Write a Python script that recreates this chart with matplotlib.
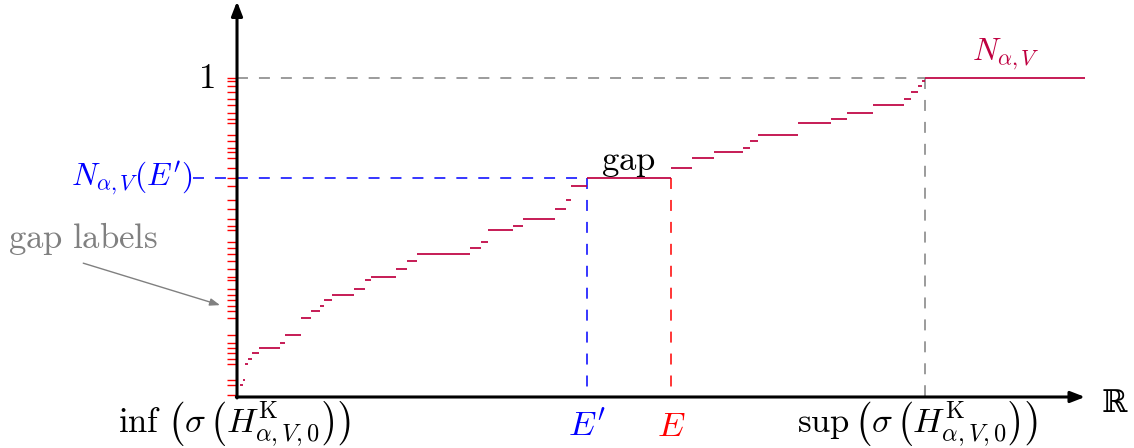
import matplotlib
matplotlib.use("Agg")
import matplotlib.pyplot as plt
import numpy as np

plt.rcParams['mathtext.fontset'] = 'cm'
plt.rcParams['lines.scale_dashes'] = False

# ---- data: integrated density of states staircase ----
# energy break points (E, normalised so inf(spectrum)=0, sup(spectrum)=1)
E_breaks = [0.005, 0.008, 0.011, 0.016, 0.022, 0.032, 0.0625, 0.070, 0.093, 0.108,
            0.121, 0.127, 0.138, 0.170, 0.186, 0.195, 0.231, 0.247, 0.262, 0.339,
            0.354, 0.365, 0.401, 0.416, 0.462, 0.478, 0.485, 0.508, 0.631, 0.662,
            0.693, 0.736, 0.746, 0.758, 0.816, 0.863, 0.887, 0.924, 0.969, 0.979,
            0.990, 0.995, 1.000, 1.233]
# N value on each plateau between consecutive break points
N_levels = [0.038, 0.053, 0.103, 0.120, 0.137, 0.155, 0.170, 0.193, 0.247, 0.271,
            0.286, 0.303, 0.320, 0.339, 0.366, 0.376, 0.402, 0.426, 0.449, 0.468,
            0.486, 0.523, 0.535, 0.558, 0.588, 0.618, 0.662, 0.686, 0.718, 0.750,
            0.768, 0.781, 0.802, 0.820, 0.858, 0.871, 0.891, 0.914, 0.934, 0.956,
            0.975, 0.990, 1.000]
gap_labels = [0.006] + N_levels          # red ticks on the vertical axis
E_prime = 0.508
E_gap = 0.631
N_E_prime = 0.686
E_inf, E_sup = 0.0, 1.0

stair_col = '#BF0040'
fs = 25
fs_n = 22.5

fig = plt.figure(figsize=(11.34, 4.48), dpi=100)
ax = fig.add_axes([0, 0, 1, 1])
ax.set_xlim(-0.3445, 1.3038)
ax.set_ylim(-0.1599, 1.2445)
ax.axis('off')

dash = (0, (7.9, 7.9))
dlw = 1.1

# guide lines
ax.plot([E_inf, E_sup], [1, 1], color='#808080', lw=dlw, ls=dash)
ax.plot([E_sup, E_sup], [1, 0], color='#808080', lw=dlw, ls=dash)
ax.plot([-0.064, E_prime], [N_E_prime, N_E_prime], color='#0000FF', lw=dlw, ls=dash)
ax.plot([E_prime, E_prime], [N_E_prime, 0], color='#0000FF', lw=dlw, ls=dash)
ax.plot([E_gap, E_gap], [N_E_prime, 0], color='#FF0000', lw=dlw, ls=dash)

# staircase
ax.hlines(N_levels, E_breaks[:-1], E_breaks[1:], colors=stair_col, lw=1.25)

# gap label ticks
ax.hlines(gap_labels, -0.0145, 0.0, colors='#FF0000', lw=1.0)

# axes arrows
arr = dict(arrowstyle='-|>,head_length=0.85,head_width=0.33', lw=2.2, color='black',
           shrinkA=0, shrinkB=0)
ax.annotate('', xy=(1.2326, 0), xytext=(-0.001, 0), arrowprops=arr)
ax.annotate('', xy=(0, 1.240), xytext=(0, -0.003), arrowprops=arr)

# texts
ax.text(-0.033, 1.0, r'$1$', fontsize=fs, ha='right', va='center')
ax.text(-0.065, N_E_prime, r"$N_{\alpha,V}(E')$", fontsize=fs_n, color='#0000FF',
        ha='right', va='center')
ax.text((E_prime + E_gap) / 2, 0.712, r'$\mathrm{gap}$', fontsize=fs,
        ha='center', va='baseline')
ax.text(1.1177, 1.075, r'$N_{\alpha,V}$', fontsize=fs_n, color=stair_col,
        ha='center', va='center')
ax.text(-0.2235, 0.498, r'$\mathrm{gap\ labels}$', fontsize=fs, color='#808080',
        ha='center', va='center')
ax.annotate('', xy=(-0.0247, 0.288), xytext=(-0.2235, 0.4195),
            arrowprops=dict(arrowstyle='-|>,head_length=0.6,head_width=0.22',
                            lw=1.0, color='#808080', shrinkA=0, shrinkB=0))

ax.text(E_inf - 0.003, -0.082,
        r'$\inf\,\left(\sigma\,\left(H^{\mathrm{K}}_{\alpha,V,0}\right)\right)$',
        fontsize=fs, ha='center', va='center')
ax.text(E_prime, -0.09, r"$E'$", fontsize=fs, color='#0000FF', ha='center', va='center')
ax.text(E_gap, -0.09, r'$E$', fontsize=fs, color='#FF0000', ha='center', va='center')
ax.text(E_sup - 0.011, -0.082,
        r'$\sup\,\left(\sigma\,\left(H^{\mathrm{K}}_{\alpha,V,0}\right)\right)$',
        fontsize=fs, ha='center', va='center')
ax.text(1.2755, -0.02, '\u211D', fontsize=22, family='DejaVu Serif',
        ha='center', va='center')

fig.savefig('out.png', dpi=100)
